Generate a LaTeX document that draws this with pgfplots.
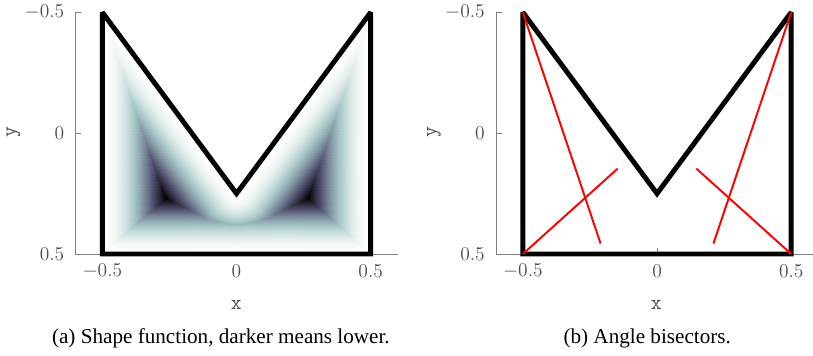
\RequirePackage{fix-cm}
\documentclass[border=0pt]{standalone}
\usepackage{fontspec}
\newfontfamily\capfont{Liberation Serif}
\usepackage{pgfplots}
\pgfplotsset{compat=1.18}
\pgfplotsset{
  myax/.style={
    scale only axis, width=214.7pt, height=161.1pt,
    anchor=south west,
    xmin=-0.6, xmax=0.6, ymin=-0.5, ymax=0.5, y dir=reverse,
    axis x line*=bottom, axis y line*=left,
    axis line style={gray, line width=0.6pt},
    tick align=inside, major tick length=4pt,
    tick style={gray, line width=0.6pt},
    xtick={-0.5,0,0.5}, ytick={-0.5,0,0.5},
    ticklabel style={font=\fontsize{13}{15}\selectfont, text=black!70},
    xticklabel style={anchor=center, inner sep=0pt, yshift=-11.5pt},
    yticklabel style={anchor=east, inner sep=0pt, xshift=-7.3pt},
    clip=false,
  },
  boundary/.style={black, line width=3.3pt, line join=miter, miter limit=2.5},
  colormap={boner}{rgb(0pt)=(1,1,1); rgb(100pt)=(0.9863,0.9912,0.9912); rgb(200pt)=(0.9453,0.9650,0.9650); rgb(300pt)=(0.8770,0.9213,0.9213); rgb(400pt)=(0.7813,0.8600,0.8600); rgb(500pt)=(0.6583,0.7813,0.7813); rgb(600pt)=(0.5600,0.6503,0.6850); rgb(700pt)=(0.4463,0.4939,0.5713); rgb(800pt)=(0.3150,0.3150,0.4383); rgb(900pt)=(0.1663,0.1663,0.2313); rgb(1000pt)=(0,0,0)},
}
\begin{document}
\begin{tikzpicture}[x=1pt,y=1pt]
\begin{axis}[myax, at={(50.33pt,68pt)}]
\addplot[patch, patch type=triangle, shader=interp, colormap name=boner,
  point meta=explicit, point meta min=0, point meta max=0.23241]
  table[x=x, y=y, meta=c] {
x y c
-0.5 -0.5 0
-0.26759 0.26759 0.23241
-0.5 0.5 0
0.5 -0.5 0
0.26759 0.26759 0.23241
0.5 0.5 0
-0.5 -0.5 0
0 0.25 0
-0.133796 0.339197 0.160803
-0.5 -0.5 0
-0.133796 0.339197 0.160803
-0.26759 0.26759 0.23241
0.5 -0.5 0
0 0.25 0
0.133796 0.339197 0.160803
0.5 -0.5 0
0.133796 0.339197 0.160803
0.26759 0.26759 0.23241
0 0.25 0
-0.133796 0.339197 0.160803
-0.12 0.3462 0.1538
0 0.25 0
-0.12 0.3462 0.1538
-0.1 0.355 0.145
0 0.25 0
-0.1 0.355 0.145
-0.08 0.3622 0.1378
0 0.25 0
-0.08 0.3622 0.1378
-0.06 0.3678 0.1322
0 0.25 0
-0.06 0.3678 0.1322
-0.04 0.3718 0.1282
0 0.25 0
-0.04 0.3718 0.1282
-0.02 0.3742 0.1258
0 0.25 0
-0.02 0.3742 0.1258
0 0.375 0.125
0 0.25 0
0 0.375 0.125
0.02 0.3742 0.1258
0 0.25 0
0.02 0.3742 0.1258
0.04 0.3718 0.1282
0 0.25 0
0.04 0.3718 0.1282
0.06 0.3678 0.1322
0 0.25 0
0.06 0.3678 0.1322
0.08 0.3622 0.1378
0 0.25 0
0.08 0.3622 0.1378
0.1 0.355 0.145
0 0.25 0
0.1 0.355 0.145
0.12 0.3462 0.1538
0 0.25 0
0.12 0.3462 0.1538
0.133796 0.339197 0.160803
-0.5 0.5 0
-0.26759 0.26759 0.23241
-0.26759 0.5 0
-0.26759 0.26759 0.23241
-0.133796 0.339197 0.160803
-0.133796 0.5 0
-0.26759 0.26759 0.23241
-0.133796 0.5 0
-0.26759 0.5 0
-0.133796 0.339197 0.160803
-0.12 0.3462 0.1538
-0.12 0.5 0
-0.133796 0.339197 0.160803
-0.12 0.5 0
-0.133796 0.5 0
-0.12 0.3462 0.1538
-0.1 0.355 0.145
-0.1 0.5 0
-0.12 0.3462 0.1538
-0.1 0.5 0
-0.12 0.5 0
-0.1 0.355 0.145
-0.08 0.3622 0.1378
-0.08 0.5 0
-0.1 0.355 0.145
-0.08 0.5 0
-0.1 0.5 0
-0.08 0.3622 0.1378
-0.06 0.3678 0.1322
-0.06 0.5 0
-0.08 0.3622 0.1378
-0.06 0.5 0
-0.08 0.5 0
-0.06 0.3678 0.1322
-0.04 0.3718 0.1282
-0.04 0.5 0
-0.06 0.3678 0.1322
-0.04 0.5 0
-0.06 0.5 0
-0.04 0.3718 0.1282
-0.02 0.3742 0.1258
-0.02 0.5 0
-0.04 0.3718 0.1282
-0.02 0.5 0
-0.04 0.5 0
-0.02 0.3742 0.1258
0 0.375 0.125
0 0.5 0
-0.02 0.3742 0.1258
0 0.5 0
-0.02 0.5 0
0 0.375 0.125
0.02 0.3742 0.1258
0.02 0.5 0
0 0.375 0.125
0.02 0.5 0
0 0.5 0
0.02 0.3742 0.1258
0.04 0.3718 0.1282
0.04 0.5 0
0.02 0.3742 0.1258
0.04 0.5 0
0.02 0.5 0
0.04 0.3718 0.1282
0.06 0.3678 0.1322
0.06 0.5 0
0.04 0.3718 0.1282
0.06 0.5 0
0.04 0.5 0
0.06 0.3678 0.1322
0.08 0.3622 0.1378
0.08 0.5 0
0.06 0.3678 0.1322
0.08 0.5 0
0.06 0.5 0
0.08 0.3622 0.1378
0.1 0.355 0.145
0.1 0.5 0
0.08 0.3622 0.1378
0.1 0.5 0
0.08 0.5 0
0.1 0.355 0.145
0.12 0.3462 0.1538
0.12 0.5 0
0.1 0.355 0.145
0.12 0.5 0
0.1 0.5 0
0.12 0.3462 0.1538
0.133796 0.339197 0.160803
0.133796 0.5 0
0.12 0.3462 0.1538
0.133796 0.5 0
0.12 0.5 0
0.133796 0.339197 0.160803
0.26759 0.26759 0.23241
0.26759 0.5 0
0.133796 0.339197 0.160803
0.26759 0.5 0
0.133796 0.5 0
0.26759 0.26759 0.23241
0.5 0.5 0
0.26759 0.5 0
};
\addplot[boundary] coordinates {(-0.5,-0.5) (0,0.25) (0.5,-0.5) (0.5,0.5) (-0.5,0.5)} -- cycle;
\end{axis}
\begin{axis}[myax, at={(330.67pt,68pt)}]
\addplot[boundary] coordinates {(-0.5,-0.5) (0,0.25) (0.5,-0.5) (0.5,0.5) (-0.5,0.5)} -- cycle;
\addplot[red, line width=1.3pt] coordinates {(-0.5,-0.5) (-0.2102,0.4571)};
\addplot[red, line width=1.3pt] coordinates {(-0.5,0.5) (-0.1464,0.1464)};
\addplot[red, line width=1.3pt] coordinates {(0.5,-0.5) (0.2102,0.4571)};
\addplot[red, line width=1.3pt] coordinates {(0.5,0.5) (0.1464,0.1464)};
\end{axis}
\tikzset{lab/.style={font=\ttfamily\fontsize{14}{16}\selectfont, text=black!70, inner sep=0pt, anchor=center}}
\node[lab] at (157.6,33.8) {x};
\node[lab] at (437.6,33.8) {x};
\node[lab, rotate=90] at (9,149) {y};
\node[lab, rotate=90] at (289.3,149) {y};
\node[font=\capfont\fontsize{14.1}{17}\selectfont, inner sep=0pt, anchor=base west] at (34.5,8) {(a) Shape function, darker means lower.};
\node[font=\capfont\fontsize{14.1}{17}\selectfont, inner sep=0pt, anchor=base west] at (375.5,8) {(b) Angle bisectors.};
\pgfresetboundingbox
\path[use as bounding box] (0,0) rectangle (542,237.33);
\end{tikzpicture}
\end{document}
